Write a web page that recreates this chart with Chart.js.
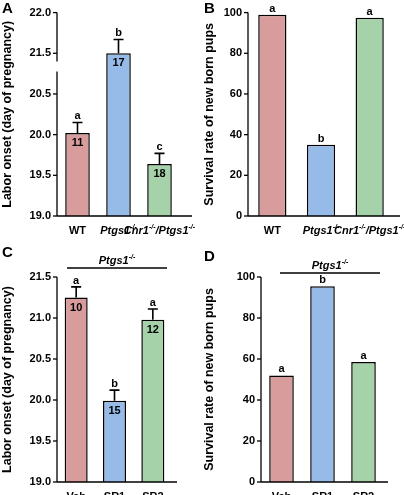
<!DOCTYPE html>
<html><head><meta charset="utf-8">
<script src="https://cdn.jsdelivr.net/npm/chart.js@4/dist/chart.umd.min.js"></script>
<style>body{margin:0;background:#fff}canvas{position:absolute}</style>
</head><body>
<canvas id="A" style="left:0;top:0"></canvas>
<canvas id="B" style="left:202px;top:0"></canvas>
<canvas id="C" style="left:0;top:245px"></canvas>
<canvas id="D" style="left:202px;top:245px"></canvas>
<script>
const catsAB = [["WT",""],["Ptgs1","-/-"],["Cnr1","-/-","/","Ptgs1","-/-"]];
const catsCD = ["Veh","SR1","SR2"];
const onsetA = [20.02, 21.5, 19.64];
const errA = [0.13, 0.17, 0.13];
const nA = ["11","17","18"];
const letA = ["a","b","c"];
const survB = [99, 35, 97.5];
const letB = ["a","b","a"];
const onsetC = [21.25, 19.99, 20.98];
const errC = [0.13, 0.13, 0.13];
const nC = ["10","15","12"];
const letC = ["a","b","a"];
const survD = [52, 95.5, 58.5];
const letD = ["a","b","a"];
const ticksA = [19.0,19.5,20.0,20.5,21.5,22.0];
const colors = ["#d89c9c","#97bbe8","#a6d2a9"];
const F = "Arial, 'Liberation Sans', sans-serif";

// broken axis in A: 21.0 is cut out, 20.5 and 21.5 are one step apart
const brk = v => v > 21.0 ? (v-19)*2-1 : (v-19)*2;

function drawLabel(ctx, parts, cx, y){
  ctx.textBaseline="alphabetic";
  const segs=[];
  if(typeof parts==="string"){segs.push({t:parts,f:"bold 11px "+F});}
  else{
    parts.forEach((p)=>{
      if(!p) return;
      if(p==="/") segs.push({t:"/",f:"italic bold 11px "+F});
      else if(p==="-/-") segs.push({t:"-/-",f:"italic bold 7px "+F,sup:true});
      else if(p==="WT") segs.push({t:p,f:"bold 11px "+F});
      else segs.push({t:p,f:"italic bold 11px "+F});
    });
  }
  let w=0; segs.forEach(s=>{ctx.font=s.f;s.w=ctx.measureText(s.t).width;w+=s.w;});
  let x=cx-w/2;
  segs.forEach(s=>{ctx.font=s.f;ctx.fillStyle="#000";ctx.fillText(s.t,x,s.sup?y-5:y);x+=s.w;});
}

function makePanel(id,o){
  const cv=document.getElementById(id);
  const plug={id:"ann"+id,afterDraw(ch){
    const c=ch.ctx,ys=ch.scales.y,a=ch.chartArea;
    c.save();
    c.fillStyle="#000";c.textAlign="left";c.font="bold 15px "+F;c.textBaseline="top";
    c.fillText(id,2,o.letterY);
    c.strokeStyle="#000";c.lineWidth=1.3;
    c.beginPath();c.moveTo(a.left,a.bottom);c.lineTo(a.right+o.ext,a.bottom);c.stroke();
    c.beginPath();
    if(o.broken){
      const g1=ys.getPixelForValue(brk(21.4));
      c.moveTo(a.left,a.top);c.lineTo(a.left,g1);c.moveTo(a.left,g1+10);c.lineTo(a.left,a.bottom);
    } else {c.moveTo(a.left,a.top);c.lineTo(a.left,a.bottom);}
    c.stroke();
    ys.ticks.forEach(t=>{const p=ys.getPixelForValue(t.value);c.beginPath();c.moveTo(a.left-4,p);c.lineTo(a.left,p);c.stroke();});
    const meta=ch.getDatasetMeta(0);
    meta.data.forEach((b,i)=>{
      let top=b.y;
      if(o.err){
        const v=o.raw[i]+o.err[i];
        const p=ys.getPixelForValue(o.broken?brk(v):v);
        c.lineWidth=1.6;c.beginPath();c.moveTo(b.x,b.y);c.lineTo(b.x,p);c.moveTo(b.x-5,p);c.lineTo(b.x+5,p);c.stroke();
        top=p;
      }
      c.textAlign="center";c.textBaseline="alphabetic";c.font="bold 11px "+F;c.fillStyle="#000";
      c.fillText(o.lets[i],b.x,top-3);
      if(o.n){c.fillText(o.n[i],b.x,b.y+13);}
      c.textAlign="left";
      drawLabel(c,o.cats[i],b.x,a.bottom+18);
    });
    if(o.header){
      c.lineWidth=1.3;c.beginPath();c.moveTo(o.header[0],o.header[2]);c.lineTo(o.header[1],o.header[2]);c.stroke();
      c.textAlign="left";
      drawLabel(c,["Ptgs1","-/-"],(o.header[0]+o.header[1])/2,o.header[2]-4);
    }
    c.restore();
  }};
  new Chart(cv,{type:"bar",
    data:{labels:o.cats.map((_,i)=>String(i)),datasets:[{data:o.data,backgroundColor:colors,borderColor:"#000",borderWidth:1.5,borderSkipped:"bottom",barPercentage:o.bp,categoryPercentage:1}]},
    plugins:[plug],
    options:{responsive:false,animation:false,devicePixelRatio:1,
      layout:{padding:{top:o.top,right:o.right,left:0,bottom:0}},
      plugins:{legend:{display:false},tooltip:{enabled:false}},
      scales:{
        x:{ticks:{display:false},grid:{display:false},border:{display:false},afterFit(s){s.height=o.bottom;}},
        y:{min:o.min,max:o.max,grid:{display:false,drawTicks:false},border:{display:false},
          afterBuildTicks:o.tickVals?(s)=>{s.ticks=o.tickVals.map(v=>({value:v}));}:undefined,
          ticks:{stepSize:o.step,padding:6,color:"#000",font:{family:F,size:11,weight:"bold"},callback:o.tcb},
          title:{display:true,text:o.title,color:"#000",font:{family:F,size:12.5,weight:"bold"},padding:{top:0,bottom:3}},
          afterFit(s){s.width=o.left;}}
      }}});
}
function sizeCanvas(id,w,h){const c=document.getElementById(id);c.width=w;c.height=h;}
sizeCanvas("A",202,245);sizeCanvas("B",202,245);sizeCanvas("C",202,250);sizeCanvas("D",202,250);

makePanel("A",{cats:catsAB,data:onsetA.map(brk),raw:onsetA,err:errA,n:nA,lets:letA,broken:true,
  min:0,max:5,tickVals:ticksA.map(brk),tcb:(v)=>{const t=ticksA.find(x=>brk(x)===v);return t!==undefined?t.toFixed(1):"";},
  title:"Labor onset (day of pregnancy)",left:57,top:12,right:22,bottom:29,ext:12,bp:0.6,letterY:1});
makePanel("B",{cats:catsAB,data:survB,lets:letB,min:0,max:100,step:20,
  title:"Survival rate of new born pups",left:46,top:12,right:10,bottom:29,ext:6,bp:0.58,letterY:1});
makePanel("C",{cats:catsCD,data:onsetC,raw:onsetC,err:errC,n:nC,lets:letC,min:19,max:21.5,step:0.5,
  tcb:(v)=>Number(v).toFixed(1),header:[67,167,23],
  title:"Labor onset (day of pregnancy)",left:57,top:32,right:30,bottom:13,ext:5,bp:0.6,letterY:0});
makePanel("D",{cats:catsCD,data:survD,lets:letD,min:0,max:100,step:20,header:[78,178,28],
  title:"Survival rate of new born pups",left:59,top:32,right:20,bottom:13,ext:4,bp:0.6,letterY:4});
</script></body></html>
